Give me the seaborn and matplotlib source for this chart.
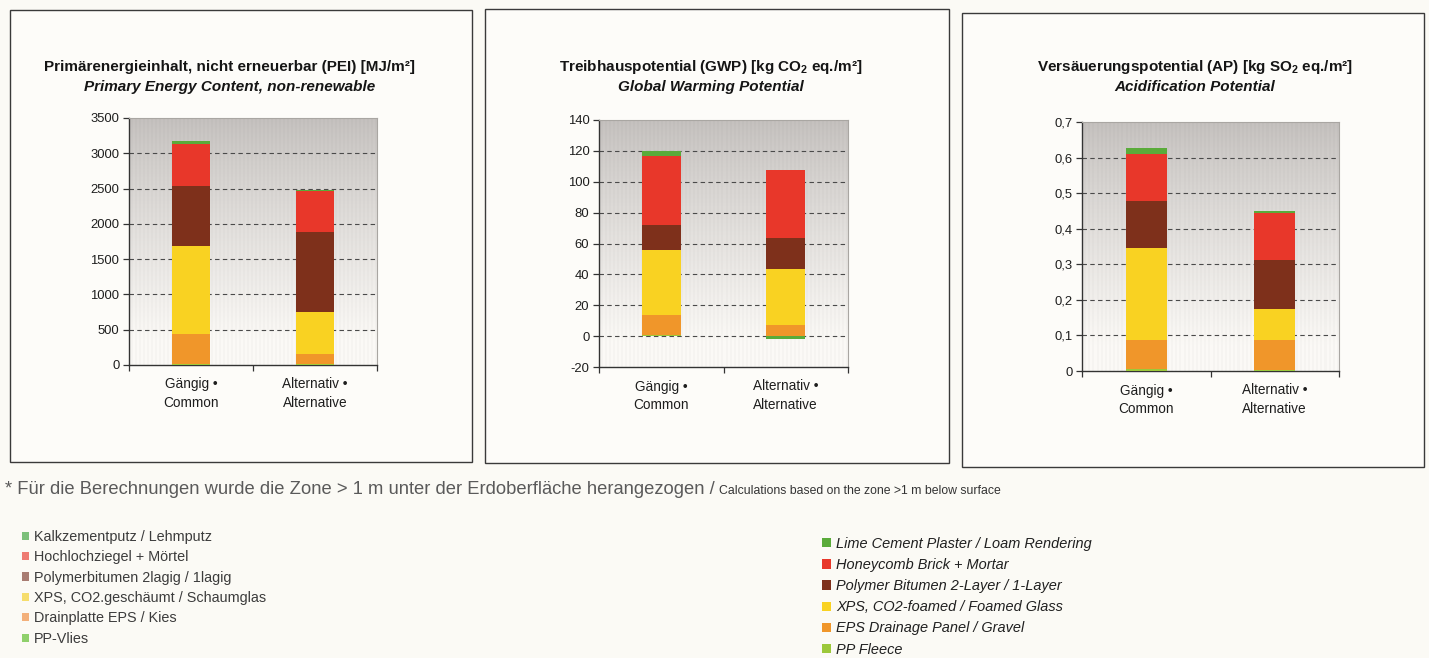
import numpy as np
import matplotlib
matplotlib.use("Agg")
import matplotlib.pyplot as plt
from matplotlib.patches import Rectangle, Patch
from matplotlib.ticker import FuncFormatter, FixedLocator
import seaborn as sns

# ---- data -------------------------------------------------------------
categories = ["Gängig •\nCommon", "Alternativ •\nAlternative"]

# layers listed bottom -> top of each stack
layer_names = ["PP-Vlies", "Drainplatte", "XPS", "Polymerbitumen", "Hochlochziegel", "Kalkzementputz"]

pei_pp = [20, 15]
pei_drain = [420, 140]
pei_xps = [1240, 590]
pei_polymer = [855, 1145]
pei_brick = [600, 580]
pei_lime = [45, 5]

gwp_pp = [0.5, 0.3]
gwp_drain = [13.5, 7.0]
gwp_xps = [41.5, 36.0]
gwp_polymer = [16.5, 20.0]
gwp_brick = [44.5, 44.0]
gwp_lime = [3.5, -2.0]

ap_pp = [0.005, 0.003]
ap_drain = [0.083, 0.083]
ap_xps = [0.258, 0.088]
ap_polymer = [0.131, 0.137]
ap_brick = [0.132, 0.134]
ap_lime = [0.018, 0.004]

titles_de = [
    "Primärenergieinhalt, nicht erneuerbar (PEI) [MJ/m²]",
    r"Treibhauspotential (GWP) [kg CO$_\mathbf{2}$ eq./m²]",
    r"Versäuerungspotential (AP) [kg SO$_\mathbf{2}$ eq./m²]",
]
titles_en = [
    "Primary Energy Content, non-renewable",
    "Global Warming Potential",
    "Acidification Potential",
]

legend_de = ["Kalkzementputz / Lehmputz", "Hochlochziegel + Mörtel",
             "Polymerbitumen 2lagig / 1lagig", "XPS, CO2.geschäumt / Schaumglas",
             "Drainplatte EPS / Kies", "PP-Vlies"]
legend_en = ["Lime Cement Plaster / Loam Rendering", "Honeycomb Brick + Mortar",
             "Polymer Bitumen 2-Layer / 1-Layer", "XPS, CO2-foamed / Foamed Glass",
             "EPS Drainage Panel / Gravel", "PP Fleece"]

footnote_de = "* Für die Berechnungen wurde die Zone > 1 m unter der Erdoberfläche herangezogen /"
footnote_en = "Calculations based on the zone >1 m below surface"

# ---- style --------------------------------------------------------------
layer_colors = ["#9cc83a", "#f0962a", "#f9d222", "#7e301b", "#e8372a", "#5aab3a"]
legend_colors_soft = ["#7cc07a", "#ee7b72", "#a87c72", "#f6dd6c", "#f3b07a", "#8fd06b"]

W, H = 1429, 658
sns.set_style("white")
plt.rcParams["font.family"] = ["Liberation Sans", "DejaVu Sans"]
plt.rcParams["mathtext.fontset"] = "custom"
plt.rcParams["mathtext.rm"] = "Liberation Sans"
plt.rcParams["mathtext.bf"] = "Liberation Sans:bold"
plt.rcParams["mathtext.it"] = "Liberation Sans:italic"

PAGE = "#fbfaf5"
fig = plt.figure(figsize=(W / 100, H / 100), dpi=100, facecolor=PAGE)


def fx(px):
    return px / W


def fy(py):
    return 1 - py / H


# panel frames (left, top, right, bottom in pixels)
frames = [(10, 10, 472, 462), (485, 9, 949, 463), (962, 13, 1424, 467)]
for l, t, r, b in frames:
    fig.patches.append(Rectangle((fx(l), fy(b)), fx(r - l), (b - t) / H,
                                 transform=fig.transFigure, facecolor="#fdfcf9",
                                 edgecolor="#3a3a3a", lw=1.0, zorder=-5))

# plot areas (left, top, right, bottom in pixels)
areas = [(129, 118, 377, 365), (599, 120, 848, 367), (1082, 122, 1339, 371)]
title_x = [230, 711, 1195]
bar_widths = [0.31, 0.31, 0.32]

datasets = [
    [pei_pp, pei_drain, pei_xps, pei_polymer, pei_brick, pei_lime],
    [gwp_pp, gwp_drain, gwp_xps, gwp_polymer, gwp_brick, gwp_lime],
    [ap_pp, ap_drain, ap_xps, ap_polymer, ap_brick, ap_lime],
]
ylims = [(0, 3500), (-20, 140), (0, 0.7)]
ysteps = [500, 20, 0.1]


def background(ax, ylim):
    # vertical grey-to-white gradient with a fine vertical line texture
    rows = np.linspace(0, 1, 200)[:, None]
    ncols = 124
    top = np.array([0.77, 0.755, 0.745])
    bot = np.array([0.985, 0.978, 0.965])
    t = np.clip(rows / 0.9, 0, 1) ** 0.85
    img = top[None, None, :] + (bot - top)[None, None, :] * t[:, :, None]
    img = np.repeat(img, ncols, axis=1)
    stripes = 1 - 0.018 * (np.arange(ncols) % 2)
    img = np.clip(img * stripes[None, :, None], 0, 1)
    ax.imshow(img, extent=(-0.5, 1.5, ylim[0], ylim[1]), aspect="auto",
              origin="upper", interpolation="nearest", zorder=0)


for i, (area, data) in enumerate(zip(areas, datasets)):
    l, t, r, b = area
    ax = fig.add_axes([fx(l), fy(b), fx(r - l), (b - t) / H], zorder=2)
    ax.set_facecolor("none")
    ylim = ylims[i]

    # stacked tops: positives stack upward, negatives downward
    vals = np.array(data, dtype=float)
    pos = np.cumsum(np.where(vals > 0, vals, 0), axis=0)
    neg = np.cumsum(np.where(vals < 0, vals, 0), axis=0)
    tops = np.where(vals < 0, neg, pos)

    # draw from the top layer down so every lower layer covers the one above
    for k in range(len(layer_names) - 1, -1, -1):
        sns.barplot(x=categories, y=list(tops[k]), color=layer_colors[k],
                    saturation=1, width=bar_widths[i], errorbar=None,
                    linewidth=0, ax=ax, zorder=3)

    background(ax, ylim)
    ax.set_xlim(-0.5, 1.5)
    ax.set_ylim(*ylim)

    step = ysteps[i]
    ticks = np.round(np.arange(ylim[0], ylim[1] + step / 2, step), 6)
    ax.yaxis.set_major_locator(FixedLocator(ticks))
    for v in ticks:
        if ylim[0] < v < ylim[1]:
            ax.axhline(v, color="#4a4a4a", lw=0.8, ls=(0, (4, 3)), zorder=1)
    if i == 2:
        ax.yaxis.set_major_formatter(
            FuncFormatter(lambda v, p: "0" if abs(v) < 1e-9 else f"{v:.1f}".replace(".", ",")))
    else:
        ax.yaxis.set_major_formatter(FuncFormatter(lambda v, p: f"{v:.0f}"))

    ax.set_xlabel("")
    ax.set_ylabel("")
    ax.grid(False)
    ax.xaxis.set_minor_locator(FixedLocator([-0.5, 0.5, 1.5]))
    ax.tick_params(axis="x", which="major", length=0, pad=9, labelsize=9.8,
                   labelcolor="#1e1e1e")
    for lab in ax.get_xticklabels():
        lab.set_linespacing(1.45)
    ax.tick_params(axis="x", which="minor", direction="out", length=4, width=0.9,
                   color="#333333", bottom=True)
    ax.tick_params(axis="y", direction="out", length=4, width=0.9, color="#333333",
                   pad=3, labelsize=9.4, labelcolor="#1e1e1e", left=True)
    for side in ("left", "bottom"):
        ax.spines[side].set_color("#333333")
        ax.spines[side].set_linewidth(1.0)
    for side in ("top", "right"):
        ax.spines[side].set_color("#a9a6a2")
        ax.spines[side].set_linewidth(0.8)

    fig.text(fx(title_x[i]), fy(67), titles_de[i], ha="center", va="center",
             fontsize=11, fontweight="bold", color="#151515")
    fig.text(fx(title_x[i]), fy(87), titles_en[i], ha="center", va="center",
             fontsize=11, fontweight="bold", fontstyle="italic", color="#151515")

# footnote
fn1 = fig.text(fx(5), fy(490), footnote_de, ha="left", va="center",
               fontsize=13.2, color="#5a5a5a")
fig.canvas.draw()
bb = fn1.get_window_extent()
fig.text(fx(bb.x1 + 4), fy(491), footnote_en, ha="left", va="center",
         fontsize=8.8, color="#333333")

# legends
handles_de = [Patch(facecolor=c, edgecolor="none") for c in legend_colors_soft]
handles_en = [Patch(facecolor=c, edgecolor="none") for c in layer_colors[::-1]]
fig.legend(handles_de, legend_de, loc="upper left",
           bbox_to_anchor=(fx(22), fy(530)), frameon=False,
           prop={"size": 10.4}, labelcolor="#3c3c3c",
           handlelength=0.5, handleheight=0.5, handletextpad=0.3,
           labelspacing=0.44, borderpad=0, borderaxespad=0)
fig.legend(handles_en, legend_en, loc="upper left",
           bbox_to_anchor=(fx(822), fy(537)), frameon=False,
           prop={"size": 10.45, "style": "italic"}, labelcolor="#202020",
           handlelength=0.6, handleheight=0.6, handletextpad=0.35,
           labelspacing=0.49, borderpad=0, borderaxespad=0)

fig.savefig("out.png", dpi=100, facecolor=PAGE)
